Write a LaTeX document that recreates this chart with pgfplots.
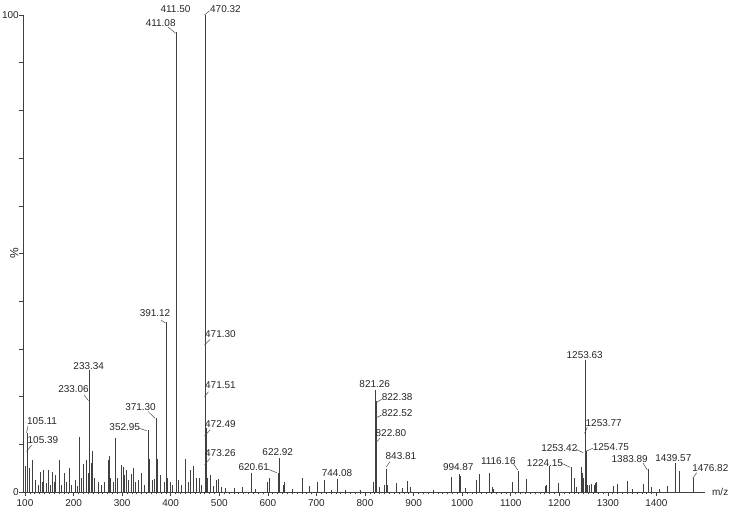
\documentclass[border=0pt]{standalone}
\usepackage{fontspec}
\setmainfont{Liberation Sans}
\usepackage{pgfplots}
\pgfplotsset{compat=1.18}
\pgfplotstableread{
mz pct
101.5 5.5
105.11 12.4
105.39 8.4
108 5
116 6.7
121 2.5
127 1.5
132 4.2
136 2
138 4.6
143 1.8
148 4.6
152 1.5
156 4.2
160 2
163 3.5
170 6.8
175 1.5
181 4
185 2
191 5
196 1.5
203 2.5
207 1.2
212 11.5
216 3
220 5.8
226 6.7
230 4
233.06 19.3
233.34 25.6
236 6
239 8.5
243 3
250 2
258 1.5
263 2
271 6.7
273 7.6
276 3
282 2
287 11.3
291 3
298 5.6
302 5.3
305 3.5
308 4.6
313 2.5
318 3.8
323 5
328 2
333 2.6
340 3.9
345 1.5
352.95 13
354 9
356 7
362 2.5
366 2.8
371.30 15.5
373 7
378 3.5
386 2
391.12 35.6
394 3
400 2
404 1.5
411.08 96.5
412 49
416 2.5
422 1.5
430 7
436 2
440 4.6
447 5.5
453 3
459 3
464 1.5
470.32 100
471.30 30.5
471.51 22
472.49 13.5
473.26 7.5
476 3
482 3.6
488 1.2
493 2.5
498 2.7
505 1
512 0.8
530 0.8
548 1
566.7 3.9
575 0.6
599 2
603 3
620.61 4
622.92 7.2
632 1.5
634 2
650 0.6
670 3
685 1.2
702 2
716 2.5
730 0.5
744.08 2.7
760 0.5
790 0.5
818 2
820.5 8
821.26 21.4
822.38 19
822.52 16
822.80 11
824 3
830 1
840 1.5
843.81 4.8
845 1.5
864 1.8
877 0.8
887 2.3
894 1
940 0.4
978.5 3.2
993.5 3
994.87 3.8
996 3.4
997 2
1006 0.9
1028.6 2.5
1035.4 3.7
1056 3.9
1063 1
1065 0.6
1104 2.2
1116.16 4.5
1133 2.7
1172 1.2
1174 1.5
1179.6 5.5
1198 1.8
1224.15 5.3
1230 3
1236 1
1245 5.3
1247 4
1249 3
1253.42 8
1253.63 27.7
1253.77 12
1254.75 8.6
1256 3
1258 1.5
1262 1.5
1267 1.7
1272 1.5
1275 1.8
1277 2
1311 1.3
1319.5 1.6
1340 2.3
1350 0.6
1373 1.6
1383.89 4.8
1390 1
1406 0.6
1422 1.2
1439.57 6.1
1447 4.3
1476.82 2.9
}\peaks
\newcommand\lblfont{\fontsize{10}{12}\selectfont}
\newcommand\lbl[4]{\node[anchor=#1,inner sep=0pt,font=\lblfont,text=black!85] at (#2,#3) {#4};}
\newcommand\con[4]{\draw[black!70,line width=0.5bp] (#1,#2) -- (#3,#4);}
\begin{document}
\begin{tikzpicture}
\useasboundingbox (0,0) rectangle (742bp,516bp);
\begin{axis}[
  at={(23.3bp,24bp)}, anchor=south west,
  scale only axis, width=681.7bp, height=477bp,
  xmin=96.5, xmax=1500, ymin=0, ymax=100,
  axis lines*=left,
  axis line style={-, black!75, line width=0.6bp},
  tick style={black!75, line width=0.5bp},
  tick align=outside,
  xtick={100,200,...,1400},
  minor x tick num=9,
  major tick length=4bp, minor tick length=2.5bp,
  ytick={0,10,...,100},
  yticklabels={0,,,,,,,,,,100},
  ylabel={\%},
  ylabel style={at={(axis description cs:0,0.5)}, anchor=center, yshift=9bp, font=\fontsize{12}{14}\selectfont, text=black!85},
  ticklabel style={font=\lblfont, text=black!85},
  yticklabel style={xshift=3bp},
  /pgf/number format/assume math mode=true,
  xticklabel style={/pgf/number format/1000 sep={}},
  clip=false,
]
\addplot[ycomb, black!75, line width=0.7bp, mark=none] table[x=mz,y=pct] {\peaks};
\end{axis}
\begin{scope}[x=1bp,y=-1bp,yshift=516bp]
\lbl{center}{175.5}{9.3}{411.50}
\lbl{center}{160.7}{22.7}{411.08}
\lbl{west}{210}{9.3}{470.32}
\lbl{center}{155}{313.5}{391.12}
\lbl{center}{88.7}{365.7}{233.34}
\lbl{center}{73.5}{389.3}{233.06}
\lbl{center}{140.5}{407.3}{371.30}
\lbl{center}{124.7}{427.3}{352.95}
\lbl{west}{27}{420.7}{105.11}
\lbl{west}{27.5}{440}{105.39}
\lbl{west}{205}{334}{471.30}
\lbl{west}{205}{385}{471.51}
\lbl{west}{205}{424.3}{472.49}
\lbl{west}{205}{452.7}{473.26}
\lbl{center}{374.7}{384}{821.26}
\lbl{west}{381.7}{397.3}{822.38}
\lbl{west}{381.7}{413.3}{822.52}
\lbl{west}{375.5}{432.7}{822.80}
\lbl{west}{385.5}{455.7}{843.81}
\lbl{center}{253.8}{467.3}{620.61}
\lbl{center}{277.7}{451.7}{622.92}
\lbl{center}{337}{472.7}{744.08}
\lbl{center}{458.3}{466.7}{994.87}
\lbl{center}{498.3}{461}{1116.16}
\lbl{center}{545}{462.7}{1224.15}
\lbl{center}{559.3}{448.3}{1253.42}
\lbl{center}{584.7}{355}{1253.63}
\lbl{west}{585.5}{423.3}{1253.77}
\lbl{west}{592.7}{446.7}{1254.75}
\lbl{center}{629.7}{459.3}{1383.89}
\lbl{center}{673.3}{458.3}{1439.57}
\lbl{center}{710.3}{468.3}{1476.82}
\lbl{west}{712}{492.3}{m/z}
\con{168.3}{27.3}{175.7}{33.3}
\con{204.5}{15}{209.5}{10.7}
\con{161}{320}{165.5}{323}
\con{84}{395}{88.5}{400.7}
\con{148.3}{411.7}{155}{418.3}
\con{139.3}{428.3}{146.7}{430.7}
\con{28}{426}{26.5}{433}
\con{31.7}{445}{26.5}{451.7}
\con{204.5}{345}{210}{339.5}
\con{204.5}{396.7}{208.5}{391.7}
\con{204.5}{436}{210}{430}
\con{204.5}{465}{210}{458.3}
\con{375.3}{403.3}{381.7}{399.3}
\con{375.3}{418.3}{381.7}{415}
\con{375.3}{443.3}{380}{438.3}
\con{386}{467.3}{390}{461.7}
\con{268.3}{469.3}{276.7}{472.7}
\con{513.3}{463.3}{517.7}{470}
\con{561.7}{463.3}{570}{467.3}
\con{576}{449.3}{583.3}{452.7}
\con{584.5}{433.3}{587.3}{427.3}
\con{585}{451.7}{592.7}{448.3}
\con{643}{463}{647.3}{470}
\con{692.7}{478.3}{696.7}{472.7}
\end{scope}
\end{tikzpicture}
\end{document}
